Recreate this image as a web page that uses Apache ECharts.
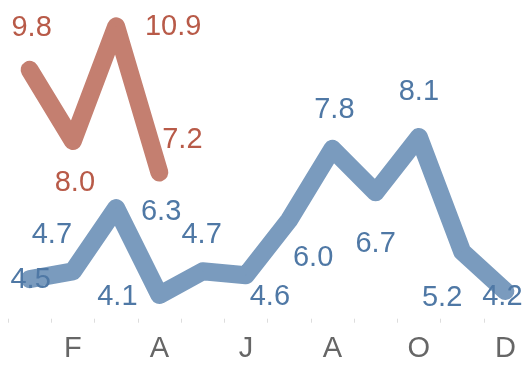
<!DOCTYPE html>
<html>
<head>
<meta charset="utf-8">
<script src="https://cdn.jsdelivr.net/npm/echarts@6/dist/echarts.min.js"></script>
<style>
html,body{margin:0;padding:0;background:#fff;}
#chart{width:527px;height:373px;}
</style>
</head>
<body>
<div id="chart"></div>
<script>
var months = ['Jan','Feb','Mar','Apr','May','Jun','Jul','Aug','Sep','Oct','Nov','Dec'];
var tickLabels = ['J','F','M','A','M','J','J','A','S','O','N','D'];
var blueValues = [4.5, 4.7, 6.3, 4.1, 4.7, 4.6, 6.0, 7.8, 6.7, 8.1, 5.2, 4.2];
var redValues = [9.8, 8.0, 10.9, 7.2];
// label nudges (pixels) for each point
var blueLabelOffsets = [[1,1],[-21,-36],[45,4],[-42,2],[-1,-36],[24,22],[24,38],[2,-39],[0,52],[0,-45],[-20,46],[-3,6]];
var redLabelOffsets = [[2,-42],[2,42],[57,1],[23,-33]];

function build(values, offsets) {
  return values.map(function (v, i) {
    return { value: v, label: { offset: offsets[i] } };
  });
}

var chart = echarts.init(document.getElementById('chart'));
var labelBase = {
  show: true,
  position: 'inside',
  fontFamily: 'Liberation Sans, Arial, sans-serif',
  fontSize: 29,
  formatter: function (p) { return p.value.toFixed(1); }
};
chart.setOption({
  animation: false,
  grid: { left: 8, width: 522, top: 2.7, height: 316 },
  xAxis: {
    type: 'category',
    data: months,
    boundaryGap: true,
    axisLine: { show: false },
    axisTick: { show: true, interval: 0, length: 4, lineStyle: { color: '#dddddd', width: 1 } },
    axisLabel: {
      interval: function (idx) { return idx % 2 === 1; },
      formatter: function (v, idx) { return tickLabels[idx]; },
      color: '#666666',
      fontFamily: 'Liberation Sans, Arial, sans-serif',
      fontSize: 29,
      margin: 16
    },
    splitLine: { show: false }
  },
  yAxis: {
    type: 'value',
    min: 3.5,
    max: 11.5,
    show: false
  },
  series: [
    {
      type: 'line',
      data: build(redValues, redLabelOffsets),
      symbol: 'circle',
      symbolSize: 1,
      itemStyle: { color: '#c47f70' },
      lineStyle: { color: '#c47f70', width: 18, cap: 'round', join: 'round' },
      label: Object.assign({}, labelBase, { color: '#b85a48' }),
      z: 2
    },
    {
      type: 'line',
      data: build(blueValues, blueLabelOffsets),
      symbol: 'circle',
      symbolSize: 1,
      itemStyle: { color: '#7a9bbe' },
      lineStyle: { color: '#7a9bbe', width: 18, cap: 'round', join: 'round' },
      label: Object.assign({}, labelBase, { color: '#4f78a5' }),
      z: 3
    }
  ]
});
</script>
</body>
</html>
